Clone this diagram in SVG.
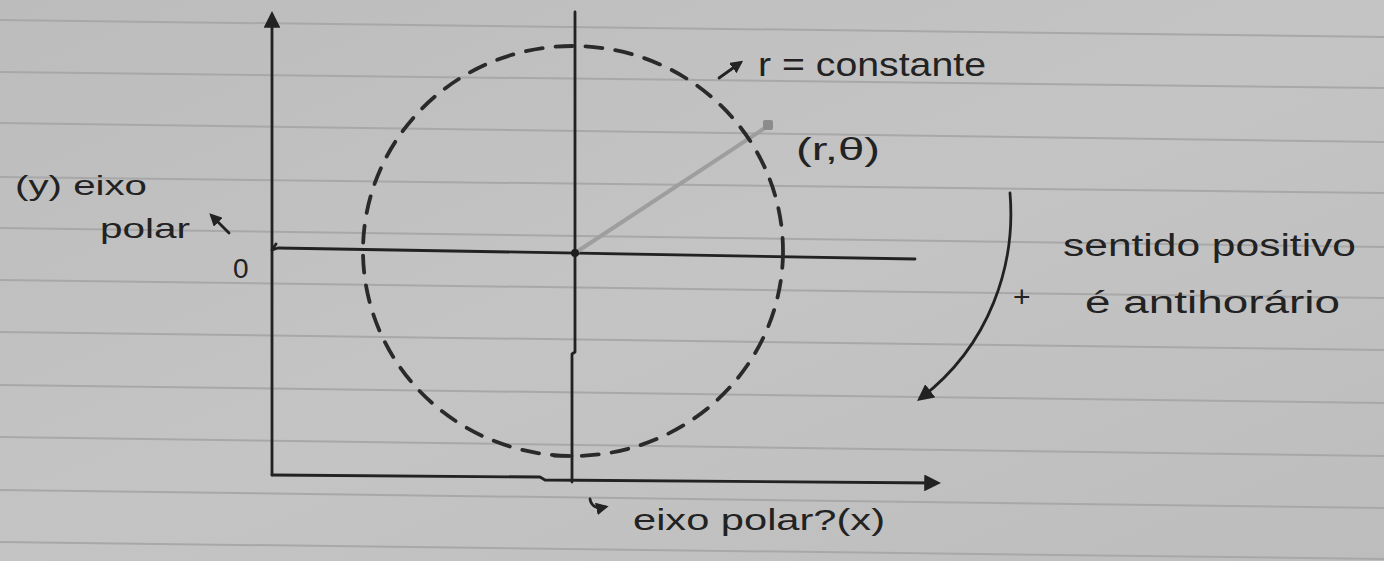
<svg xmlns="http://www.w3.org/2000/svg" width="1384" height="561" viewBox="0 0 1384 561">
  <defs>
    <linearGradient id="paperGrad" x1="0" y1="0" x2="1" y2="1">
      <stop offset="0" stop-color="#bcbcbc"/>
      <stop offset="0.5" stop-color="#c4c4c4"/>
      <stop offset="1" stop-color="#bdbdbd"/>
    </linearGradient>
    <marker id="headFill" viewBox="0 0 10 10" refX="7" refY="5" markerWidth="6" markerHeight="6" orient="auto" markerUnits="strokeWidth">
      <path d="M0,0 L10,5 L0,10 Z" fill="#222"/>
    </marker>
    <marker id="headSmall" viewBox="0 0 10 10" refX="7" refY="5" markerWidth="4.5" markerHeight="4.5" orient="auto" markerUnits="strokeWidth">
      <path d="M0,0 L10,5 L0,10 Z" fill="#222"/>
    </marker>
  </defs>
  <style>
    .rule { stroke: #a8a8a8; stroke-width: 2; fill: none; }
    .ink { stroke: #222; stroke-width: 2.8; fill: none; stroke-linecap: round; stroke-linejoin: round; }
    .dash { stroke: #2a2a2a; stroke-width: 3.8; fill: none; stroke-dasharray: 17 13; stroke-linecap: round; }
    .txt { font-family: "Liberation Sans", "DejaVu Sans", sans-serif; fill: #222; }
  </style>

  <g id="paper">
    <rect x="0" y="0" width="1384" height="561" fill="url(#paperGrad)"/>
    <line class="rule" x1="0" y1="20" x2="1384" y2="37"/>
    <line class="rule" x1="0" y1="72" x2="1384" y2="88"/>
    <line class="rule" x1="0" y1="123" x2="1384" y2="142"/>
    <line class="rule" x1="0" y1="177" x2="1384" y2="193"/>
    <line class="rule" x1="0" y1="228" x2="1384" y2="247"/>
    <line class="rule" x1="0" y1="280" x2="1384" y2="298"/>
    <line class="rule" x1="0" y1="332" x2="1384" y2="350"/>
    <line class="rule" x1="0" y1="385" x2="1384" y2="403"/>
    <line class="rule" x1="0" y1="437" x2="1384" y2="456"/>
    <line class="rule" x1="0" y1="490" x2="1384" y2="508"/>
    <line class="rule" x1="0" y1="542" x2="1384" y2="559"/>
  </g>

  <g id="connectors">
    <path id="y-axis" class="ink" d="M272,475 L272,16" marker-end="url(#headFill)"/>
    <path id="x-axis" class="ink" d="M272,475 L540,477 L545,480 L936,483" marker-end="url(#headFill)"/>
    <path id="polar-axis" class="ink" d="M276,244 L272,250 L278,248 L915,259"/>
    <path id="pole-vertical" class="ink" d="M575,12 L575,352 L572,354 L572,482"/>
    <path class="ink" d="M554,456 L572,456"/>
    <path id="radius" d="M575,253 L768,126" stroke="#9e9e9e" stroke-width="4" fill="none" stroke-linecap="round"/>
    <path id="rotation-arrow" class="ink" d="M1010,193 C1016,265 990,345 921,398" marker-end="url(#headFill)"/>
    <path class="ink" d="M229,233 L212,216" marker-end="url(#headSmall)"/>
    <path class="ink" d="M719,78 L740,63" marker-end="url(#headSmall)"/>
    <path class="ink" d="M590,499 Q592,510 605,507" marker-end="url(#headSmall)"/>
  </g>

  <g id="circle">
    <ellipse cx="573" cy="251" rx="210" ry="205" class="dash"/>
  </g>

  <g id="pole">
    <circle cx="575" cy="253" r="4" fill="#1e1e1e"/>
  </g>

  <g id="point">
    <rect x="763" y="120" width="10" height="10" rx="2" fill="#8c8c8c"/>
    <text class="txt" x="796" y="160" font-size="32" textLength="84" lengthAdjust="spacingAndGlyphs">(r,θ)</text>
  </g>

  <g id="label-constant">
    <text class="txt" x="758" y="76" font-size="34" textLength="228" lengthAdjust="spacingAndGlyphs">r = constante</text>
  </g>

  <g id="label-y-axis">
    <text class="txt" x="15" y="195" font-size="28" textLength="132" lengthAdjust="spacingAndGlyphs">(y) eixo</text>
    <text class="txt" x="100" y="238" font-size="28" textLength="90" lengthAdjust="spacingAndGlyphs">polar</text>
  </g>

  <g id="label-origin">
    <text class="txt" x="233" y="278" font-size="28">0</text>
  </g>

  <g id="label-x-axis">
    <text class="txt" x="633" y="530" font-size="30" textLength="252" lengthAdjust="spacingAndGlyphs">eixo polar?(x)</text>
  </g>

  <g id="label-direction">
    <text class="txt" x="1013" y="307" font-size="30">+</text>
    <text class="txt" x="1063" y="256" font-size="31" textLength="293" lengthAdjust="spacingAndGlyphs">sentido positivo</text>
    <text class="txt" x="1085" y="313" font-size="31" textLength="255" lengthAdjust="spacingAndGlyphs">é antihorário</text>
  </g>
</svg>
